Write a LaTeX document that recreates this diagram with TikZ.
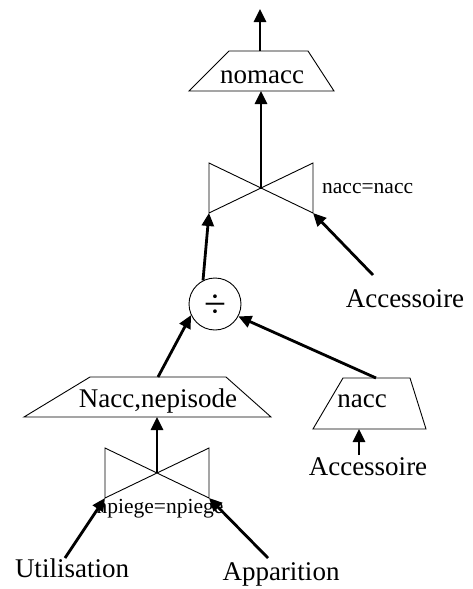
\documentclass[tikz,border=0pt]{standalone}
\usepackage{fontspec}
\setmainfont{Liberation Serif}
\usetikzlibrary{arrows.meta}
\begin{document}
\begin{tikzpicture}[x=1pt,y=-1pt,
  thinline/.style={line width=0.9pt,line join=miter},
  flow/.style={line width=2.8pt,-{Triangle[length=13pt,width=12pt]}},
  big/.style={inner sep=0pt,anchor=base,font=\fontsize{27}{30}\selectfont},
  small/.style={inner sep=0pt,anchor=base,font=\fontsize{21.5}{24}\selectfont}]
\useasboundingbox (0,0) rectangle (472,589);
% nomacc projection
\draw[thinline] (229,51) -- (308,51) -- (334,91) -- (189,91) -- cycle;
\node[big] (nomacc) at (262,83) {nomacc};
\coordinate (nomtop) at (260,51);
\coordinate (nombot) at (261,91);
\coordinate (out) at (260,9);
% join 1
\draw[thinline] (209,163) -- (313,213) -- (313,163) -- (209,213) -- cycle;
\coordinate (j1) at (261,189);
\coordinate (j1l) at (209,213);
\coordinate (j1r) at (313,213);
\node[small,anchor=base west] (j1lab) at (322,193) {nacc=nacc};
% division
\node[circle,draw,line width=0.9pt,minimum size=52pt,inner sep=0pt] (div) at (215,304) {};
\node[inner sep=0pt,font=\fontsize{40}{42}\selectfont] (divsym) at (215,306) {÷};
% Nacc,nepisode projection
\draw[thinline] (90,377) -- (226,377) -- (271,417) -- (24,417) -- cycle;
\node[big] (nn) at (158,407) {Nacc,nepisode};
\coordinate (nntop) at (158,377);
\coordinate (nnbot) at (157,417);
% nacc projection
\draw[thinline] (343,378) -- (410,378) -- (426,429) -- (313,429) -- cycle;
\node[big] (nacc) at (362,407) {nacc};
\coordinate (nacctop) at (376,378);
\coordinate (naccbot) at (359,429);
% join 2
\draw[thinline] (105,448) -- (209,498) -- (209,448) -- (105,498) -- cycle;
\coordinate (j2) at (157,473);
\coordinate (j2l) at (105,498);
\coordinate (j2r) at (209,498);
\node[small] (j2lab) at (160,513) {npiege=npiege};
% relations
\node[big] (acc1) at (405,307) {Accessoire};
\node[big] (acc2) at (368,475) {Accessoire};
\node[big] (util) at (72,577) {Utilisation};
\node[big] (app) at (281,580) {Apparition};
\coordinate (acc1s) at (373,275);
\coordinate (acc2s) at (359,455);
\coordinate (utils) at (65,558);
\coordinate (apps) at (268,558);
% arrows
\draw[flow] (nomtop) -- (out);
\draw[flow] (j1) -- (nombot);
\draw[flow] (div.117) -- (j1l);
\draw[flow] (acc1s) -- (j1r);
\draw[flow] (nntop) -- (div.205);
\draw[flow] (nacctop) -- (div.-28);
\draw[flow] (j2) -- (nnbot);
\draw[flow] (acc2s) -- (naccbot);
\draw[flow] (utils) -- (j2l);
\draw[flow] (apps) -- (j2r);
\end{tikzpicture}
\end{document}
